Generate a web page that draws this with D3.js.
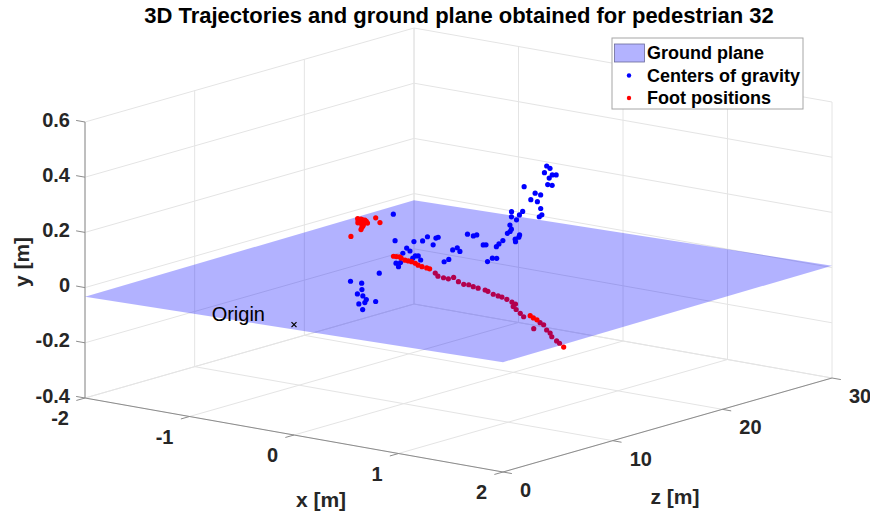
<!DOCTYPE html>
<html>
<head>
<meta charset="utf-8">
<script src="https://cdn.jsdelivr.net/npm/d3@7"></script>
<style>
  body { margin: 0; background: #fff; }
  svg { display: block; font-family: 'Liberation Sans', Arial, Helvetica, sans-serif; }
</style>
</head>
<body>
<svg id="chart" width="870" height="519"></svg>
<script>
// axis ticks
const xTicks = [-2, -1, 0, 1, 2]
const yTicks = [-0.4, -0.2, 0, 0.2, 0.4, 0.6]
const zTicks = [0, 10, 20, 30]

// ground plane corners (x, z) and fitted height y
const planeX = [-2, 2, 2, -2]
const planeZ = [0, 0, 30, 30]
const planeY = [-0.033, -0.002, 0.007, -0.024]

// foot positions
const footX = [
  -1.84, -1.82, -1.79, -1.76, -1.77, -1.73, -1.68, -1.64, -1.61, -1.72, -1.73, -1.76, -1.63, -1.51,
  -1.8, -1.75, -1.7, -1.66,
  -0.86, -0.83, -0.8, -0.77, -0.71, -0.67, -0.63, -0.58, -0.53, -0.47, -0.41, -0.38,
  -0.34, -0.27, -0.2, -0.16, -0.14, -0.03, 0.05, 0.1, 0.16, 0.21, 0.3, 0.35, 0.43, 0.5, 0.55,
  0.62, 0.7, 0.77, 0.81, 0.88, 0.99, 1.08,
  1.24, 1.3, 1.37,
  1.3, 1.37, 1.38, 1.49, 1.58, 1.66, 1.77, 1.84, 1.95,
]
const footZ = [
  23.34, 23.46, 23.32, 23.24, 22.87, 22.61, 22.33, 21.82, 21.45, 22.81, 23.08, 24.22, 23.37, 19.58,
  23.0, 22.5, 22.9, 22.1,
  17.27, 17.25, 17.25, 17.11, 16.89, 16.81, 16.73, 16.59, 16.37, 16.15, 16.01, 15.99,
  16.12, 15.7, 15.54, 15.6, 15.89, 15.28, 15.0, 14.98, 14.82, 14.79, 14.57, 14.35, 14.07, 13.85, 13.72,
  13.5, 13.2, 12.86, 12.27, 11.87, 11.2, 10.65,
  9.72, 9.44, 9.1,
  10.05, 9.71, 8.71, 8.84, 8.3, 7.69, 7.08, 6.68, 6.01,
]
const footY = [
  -0.004, -0.006, -0.005, -0.003, -0.005, -0.006, -0.004, -0.005, -0.007, -0.005, -0.004, -0.006, -0.005, -0.004,
  -0.005, -0.004, -0.006, -0.005,
  -0.006, -0.005, -0.004, -0.005, -0.006, -0.005, -0.004, -0.005, -0.006, -0.005, -0.004, -0.005,
  -0.019, -0.021, -0.02, -0.022, -0.019, -0.02, -0.021, -0.019, -0.02, -0.022, -0.02, -0.019, -0.021, -0.02, -0.019,
  -0.02, -0.021, -0.02, -0.019, -0.021, -0.02, -0.02,
  0.005, 0.004, 0.006,
  -0.02, -0.019, -0.021, -0.02, -0.019, -0.02, -0.021, -0.02, -0.019,
]

// centers of gravity
const cogX = [
  -1.39, -1.21, -1.26, -1.23, -1.23, -1.26, -1.19, -1.3, -1.19, -1.16, -1.01,
  -0.76, -0.67, -0.69, -0.58, -0.58, -0.49, -0.56, -0.48, -0.53, -0.5, -0.7, -0.64, -0.66,
  -0.48, -0.36, -0.4, -0.3, -0.31, -0.19, -0.24, -0.15, -0.18, -0.06, -0.04, 0.1, 0.07,
  0.31, 0.41, 0.33, 0.45, 0.46, 0.52, 0.45, 0.54, 0.51, 0.63, 0.59, 0.66, 0.66, 0.58, 0.73,
  0.56, 0.74, 0.64, 0.7, 0.64, 0.7, 0.67, 0.87, 0.87, 0.86, 0.86, 0.86, 0.92, 0.85,
  0.97, 0.97, 0.98, 0.96, 1.05, 0.91, 0.99, 0.98,
]
const cogZ = [
  18.4, 17.7, 18.2, 17.5, 18.0, 18.6, 17.8, 18.3, 17.6, 18.5, 17.4,
  16.3, 15.6, 16.5, 15.8, 16.1, 15.5, 16.4, 15.9, 16.6, 15.7, 16.2, 15.4, 16.0,
  16.3, 15.6, 16.5, 15.8, 16.1, 15.5, 16.4, 15.9, 16.6, 15.7, 16.2, 15.4, 16.0,
  14.3, 13.6, 14.5, 13.8, 14.1, 13.5, 14.4, 13.9, 14.6, 13.7, 14.2, 13.4, 14.0, 14.3, 13.6,
  14.5, 13.8, 14.1, 13.5, 14.4, 13.9, 14.6, 13.7, 14.2, 13.4, 14.0, 14.3, 13.6, 14.5,
  13.8, 14.1, 13.5, 14.4, 13.9, 14.6, 13.7, 14.2,
]
const cogY = [
  -0.145, -0.132, -0.164, -0.17, -0.183, -0.205, -0.202, -0.22, -0.225, -0.204, -0.079,
  0.164, 0.082, 0.025, 0.059, 0.045, 0.032, 0.025, 0.036, 0.01, 0.089, -0.021, 0.005, -0.001,
  0.086, 0.117, 0.075, 0.114, 0.113, 0.039, 0.034, 0.08, 0.078, 0.083, 0.141, 0.153, 0.148,
  0.147, 0.162, 0.086, 0.114, 0.111, 0.164, 0.159, 0.183, 0.199, 0.224, 0.224, 0.253, 0.265, 0.267, 0.292,
  0.282, 0.303, 0.183, 0.203, 0.196, 0.214, 0.379, 0.379, 0.367, 0.358, 0.344, 0.316, 0.298, 0.29,
  0.483, 0.471, 0.463, 0.443, 0.455, 0.426, 0.418, 0.409,
]

// origin marker
const originPoint = { x: 0, y: 0, z: 0, label: 'Origin' }

const width = 870
const height = 519
const textColor = '#262626'
const gridColor = '#e4e4e4'
const axisColor = '#8c8c8c'

// 3D box -> screen: normalized position along each data axis times its projected edge
const xS = d3.scaleLinear().domain([-2, 2]).range([0, 1])
const yS = d3.scaleLinear().domain([-0.4, 0.6]).range([0, 1])
const zS = d3.scaleLinear().domain([0, 30]).range([0, 1])
const boxCorner = [85, 398]
const edgeX = [418, 74]
const edgeY = [0, -276]
const edgeZ = [329, -94]

const proj = (x, y, z) => [
  boxCorner[0] + xS(x) * edgeX[0] + yS(y) * edgeY[0] + zS(z) * edgeZ[0],
  boxCorner[1] + xS(x) * edgeX[1] + yS(y) * edgeY[1] + zS(z) * edgeZ[1],
]
const unit = (v, s) => {
  const l = Math.hypot(v[0], v[1])
  return [(v[0] / l) * s, (v[1] / l) * s]
}

// plane height at (x, z), bilinear over the corners
const planeAt = (x, z) => {
  const u = xS(x)
  const v = zS(z)
  return (
    (1 - u) * (1 - v) * planeY[0] +
    u * (1 - v) * planeY[1] +
    u * v * planeY[2] +
    (1 - u) * v * planeY[3]
  )
}

const svg = d3.select('#chart')

svg
  .append('rect')
  .attr('width', width)
  .attr('height', height)
  .attr('fill', '#fff')

const line = d3.line()

// grid on the three back walls
const [xMin, xMax] = xS.domain()
const [yMin, yMax] = yS.domain()
const [zMin, zMax] = zS.domain()
const gridSegs = []
yTicks.forEach((y) => {
  gridSegs.push([proj(xMin, y, zMin), proj(xMin, y, zMax)]) // left wall
  gridSegs.push([proj(xMin, y, zMax), proj(xMax, y, zMax)]) // back wall
})
zTicks.forEach((z) => {
  gridSegs.push([proj(xMin, yMin, z), proj(xMin, yMax, z)])
  gridSegs.push([proj(xMin, yMin, z), proj(xMax, yMin, z)]) // floor
})
xTicks.forEach((x) => {
  gridSegs.push([proj(x, yMin, zMax), proj(x, yMax, zMax)])
  gridSegs.push([proj(x, yMin, zMin), proj(x, yMin, zMax)]) // floor
})

svg
  .append('g')
  .attr('id', 'grid')
  .selectAll('path')
  .data(gridSegs)
  .join('path')
  .attr('d', (d) => line(d))
  .attr('stroke', gridColor)
  .attr('stroke-width', 1)
  .attr('fill', 'none')

// axis lines
const axes = svg.append('g').attr('id', 'axes')
const axisSegs = [
  [proj(xMin, yMin, zMin), proj(xMin, yMax, zMin)],
  [proj(xMin, yMin, zMin), proj(xMax, yMin, zMin)],
  [proj(xMax, yMin, zMin), proj(xMax, yMin, zMax)],
]
axes
  .selectAll('path.axis')
  .data(axisSegs)
  .join('path')
  .attr('class', 'axis')
  .attr('d', (d) => line(d))
  .attr('stroke', axisColor)
  .attr('fill', 'none')

// ticks point outward from the box
const tickLen = 9
const yDir = unit([-edgeX[0], -edgeX[1]], tickLen)
const xDir = unit([-edgeZ[0], -edgeZ[1]], tickLen)
const zDir = unit(edgeX, tickLen)

const tickData = [
  ...yTicks.map((v) => ({ p: proj(xMin, v, zMin), dir: yDir })),
  ...xTicks.map((v) => ({ p: proj(v, yMin, zMin), dir: xDir })),
  ...zTicks.map((v) => ({ p: proj(xMax, yMin, v), dir: zDir })),
]
axes
  .selectAll('path.tick')
  .data(tickData)
  .join('path')
  .attr('class', 'tick')
  .attr('d', (d) => line([d.p, [d.p[0] + d.dir[0], d.p[1] + d.dir[1]]]))
  .attr('stroke', axisColor)
  .attr('fill', 'none')

const labels = svg
  .append('g')
  .attr('font-size', 20)
  .attr('font-weight', 'bold')
  .attr('fill', textColor)

// matlab style labels use a plain hyphen for negatives
labels
  .selectAll('text.ylab')
  .data(yTicks)
  .join('text')
  .attr('class', 'ylab')
  .attr('x', (d) => proj(xMin, d, zMin)[0] - 15)
  .attr('y', (d) => proj(xMin, d, zMin)[1] - 2.5)
  .attr('dy', '0.35em')
  .attr('text-anchor', 'end')
  .text((d) => String(d))

labels
  .selectAll('text.xlab')
  .data(xTicks)
  .join('text')
  .attr('class', 'xlab')
  .attr('x', (d) => proj(d, yMin, zMin)[0] - 16)
  .attr('y', (d) => proj(d, yMin, zMin)[1] + 20)
  .attr('dy', '0.35em')
  .attr('text-anchor', 'end')
  .text((d) => String(d))

labels
  .selectAll('text.zlab')
  .data(zTicks)
  .join('text')
  .attr('class', 'zlab')
  .attr('x', (d) => proj(xMax, yMin, d)[0] + 17)
  .attr('y', (d) => proj(xMax, yMin, d)[1] + 18)
  .attr('dy', '0.35em')
  .attr('text-anchor', 'start')
  .text((d) => String(d))

// axis titles
const axisTitles = labels.append('g').attr('font-size', 21)
axisTitles
  .append('text')
  .attr('x', 321)
  .attr('y', 500)
  .attr('dy', '0.35em')
  .attr('text-anchor', 'middle')
  .text('x [m]')
axisTitles
  .append('text')
  .attr('x', 675)
  .attr('y', 497)
  .attr('dy', '0.35em')
  .attr('text-anchor', 'middle')
  .text('z [m]')
axisTitles
  .append('text')
  .attr('transform', 'translate(22,262) rotate(-90)')
  .attr('dy', '0.35em')
  .attr('text-anchor', 'middle')
  .text('y [m]')

// points, split by side of the ground plane so the plane tints the ones below
const points = [
  ...cogX.map((x, i) => ({ x, y: cogY[i], z: cogZ[i], color: '#0000ff' })),
  ...footX.map((x, i) => ({ x, y: footY[i], z: footZ[i], color: '#ff0000' })),
]
points.forEach((d) => (d.below = d.y < planeAt(d.x, d.z)))

const drawPoints = (sel) =>
  sel
    .join('circle')
    .attr('cx', (d) => proj(d.x, d.y, d.z)[0])
    .attr('cy', (d) => proj(d.x, d.y, d.z)[1])
    .attr('r', 2.6)
    .attr('fill', (d) => d.color)

svg
  .append('g')
  .attr('id', 'below')
  .selectAll('circle')
  .data(points.filter((d) => d.below))
  .call(drawPoints)

svg
  .append('path')
  .attr('id', 'plane')
  .attr('d', line(planeX.map((x, i) => proj(x, planeY[i], planeZ[i]))) + 'Z')
  .attr('fill', '#0000ff')
  .attr('fill-opacity', 0.3)

svg
  .append('g')
  .attr('id', 'above')
  .selectAll('circle')
  .data(points.filter((d) => !d.below))
  .call(drawPoints)

// origin
const op = proj(originPoint.x, originPoint.y, originPoint.z)
svg
  .append('path')
  .attr('d', `M${op[0] - 2.5},${op[1] - 2.5}L${op[0] + 2.5},${op[1] + 2.5}M${op[0] - 2.5},${op[1] + 2.5}L${op[0] + 2.5},${op[1] - 2.5}`)
  .attr('stroke', '#000')
  .attr('stroke-width', 1.2)
svg
  .append('text')
  .attr('x', op[0] - 29)
  .attr('y', op[1] - 11)
  .attr('dy', '0.35em')
  .attr('text-anchor', 'end')
  .attr('font-size', 20)
  .attr('fill', '#000')
  .text(originPoint.label)

// title, centred over the axes box
svg
  .append('text')
  .attr('x', 459)
  .attr('y', 15)
  .attr('dy', '0.35em')
  .attr('text-anchor', 'middle')
  .attr('font-size', 22)
  .attr('font-weight', 'bold')
  .attr('fill', '#000')
  .text('3D Trajectories and ground plane obtained for pedestrian 32')

// legend
const legend = svg.append('g').attr('id', 'legend').attr('transform', 'translate(612,38)')
legend
  .append('rect')
  .attr('width', 191)
  .attr('height', 71)
  .attr('fill', '#fff')
  .attr('stroke', '#a6a6a6')

const legendItems = [
  { label: 'Ground plane', type: 'patch' },
  { label: 'Centers of gravity', type: 'dot', color: '#0000ff' },
  { label: 'Foot positions', type: 'dot', color: '#ff0000' },
]
const rows = legend
  .selectAll('g')
  .data(legendItems)
  .join('g')
  .attr('transform', (d, i) => `translate(0,${15 + i * 22.5})`)

rows
  .filter((d) => d.type === 'patch')
  .append('rect')
  .attr('x', 2.5)
  .attr('y', -9)
  .attr('width', 30)
  .attr('height', 18)
  .attr('fill', '#b3b3ff')
  .attr('stroke', '#6a6a9a')
  .attr('stroke-width', 0.8)

rows
  .filter((d) => d.type === 'dot')
  .append('circle')
  .attr('cx', 17)
  .attr('r', 2.2)
  .attr('fill', (d) => d.color)

rows
  .append('text')
  .attr('x', 35)
  .attr('dy', '0.35em')
  .attr('font-size', 18)
  .attr('font-weight', 'bold')
  .attr('fill', '#000')
  .text((d) => d.label)
</script>
</body>
</html>
